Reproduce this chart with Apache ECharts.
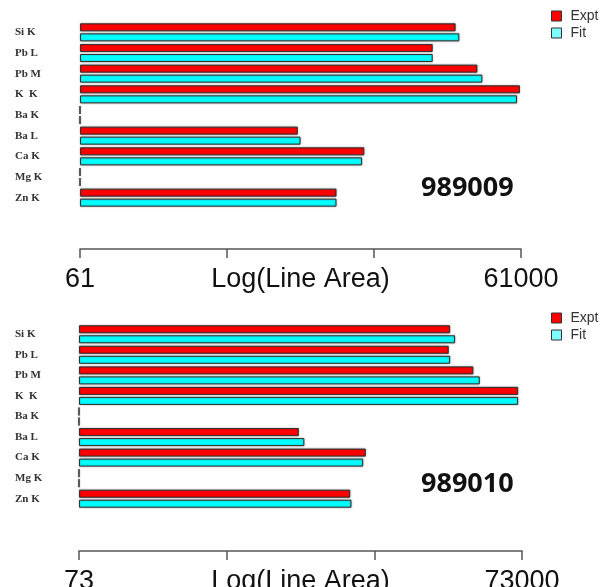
<!DOCTYPE html>
<html>
<head>
<meta charset="utf-8">
<title>Log(Line Area)</title>
<script src="https://cdn.jsdelivr.net/npm/echarts@6/dist/echarts.min.js"></script>
<style>
  html, body { margin: 0; padding: 0; background: #fff; }
  #chart { width: 600px; height: 587px; }
</style>
</head>
<body>
<div id="chart"></div>
<script>
// Emission lines, top to bottom
const categories = ['Si K', 'Pb L', 'Pb M', 'K  K', 'Ba K', 'Ba L', 'Ca K', 'Mg K', 'Zn K'];

// Sample 989009
const range989009 = [61, 61000];
const ticks989009 = ['61', '', '', '61000'];
const expt989009 = [21900, 15300, 30800, 60000, 61, 1850, 5240, 61, 3390];
const fit989009  = [23200, 15300, 33300, 57300, 61, 1930, 5060, 61, 3390];

// Sample 989010
const range989010 = [73, 73000];
const ticks989010 = ['73', '', '', '73000'];
const expt989010 = [23800, 23300, 34200, 68700, 73, 2250, 6390, 73, 5010];
const fit989010  = [25700, 23800, 37800, 68700, 73, 2450, 6130, 73, 5110];

const panels = [
  { id: '989009', range: range989009, ticks: ticks989009, expt: expt989009, fit: fit989009,
    grid: { left: 80, right: 79, top: 22, height: 186 }, axisOffset: 41,
    legendTop: 9, titleTop: 175 },
  { id: '989010', range: range989010, ticks: ticks989010, expt: expt989010, fit: fit989010,
    grid: { left: 79, right: 78, top: 324, height: 185 }, axisOffset: 42,
    legendTop: 311, titleTop: 471 }
];

const RED = '#ff0000';
const CYAN = '#00ffff';

const barStyle = color => ({
  color: color,
  borderColor: '#333333',
  borderWidth: 1,
  shadowColor: 'rgba(0,0,0,0.35)',
  shadowBlur: 2
});

const option = {
  animation: false,
  backgroundColor: '#ffffff',
  grid: [],
  xAxis: [],
  yAxis: [],
  series: [],
  legend: [],
  title: []
};

panels.forEach((p, i) => {
  option.grid.push(Object.assign({ containLabel: false, outerBoundsMode: 'none' }, p.grid));

  // log axis the bars are measured on
  option.xAxis.push({
    type: 'log',
    logBase: 10,
    gridIndex: i,
    position: 'top',
    min: p.range[0],
    max: p.range[1],
    startValue: p.range[0],
    show: false
  });

  // decade ruler under the bars (0..3 decades above the minimum)
  const decades = p.ticks.length - 1;
  option.xAxis.push({
    type: 'value',
    gridIndex: i,
    position: 'bottom',
    offset: p.axisOffset,
    min: 0,
    max: decades,
    interval: 1,
    name: 'Log(Line Area)',
    nameLocation: 'middle',
    nameGap: 16,
    nameMoveOverlap: false,
    nameTextStyle: {
      fontFamily: 'Liberation Sans', fontSize: 27, color: '#111',
      verticalAlign: 'top', lineHeight: 30
    },
    axisLine: { show: true, lineStyle: { color: '#555', width: 1.5 } },
    axisTick: { show: true, length: 9, lineStyle: { color: '#555', width: 1.5 } },
    splitLine: { show: false },
    axisLabel: {
      margin: 16,
      fontFamily: 'Liberation Sans',
      fontSize: 27,
      lineHeight: 30,
      color: '#111',
      formatter: v => p.ticks[Math.round(v)] || ''
    }
  });

  option.yAxis.push({
    type: 'category',
    gridIndex: i,
    data: categories,
    inverse: true,
    axisLine: { show: false },
    axisTick: { show: false },
    splitLine: { show: false },
    axisLabel: {
      align: 'left',
      margin: p.grid.left - 15,
      fontFamily: 'Liberation Serif',
      fontWeight: 'bold',
      fontSize: 11,
      color: '#333',
      padding: [0, 0, 4, 0]
    }
  });

  option.series.push({
    name: 'Expt',
    type: 'bar',
    xAxisIndex: i * 2,
    yAxisIndex: i,
    data: p.expt,
    barWidth: 8,
    barGap: '25%',
    clip: true,
    itemStyle: barStyle(RED)
  });
  option.series.push({
    name: 'Fit',
    type: 'bar',
    xAxisIndex: i * 2,
    yAxisIndex: i,
    data: p.fit,
    barWidth: 8,
    barGap: '25%',
    clip: true,
    itemStyle: barStyle(CYAN)
  });

  option.legend.push({
    data: [
      { name: 'Expt', itemStyle: { color: RED, borderColor: '#333', borderWidth: 1, shadowBlur: 0 } },
      { name: 'Fit', itemStyle: { color: '#80ffff', borderColor: '#333', borderWidth: 1, shadowBlur: 0 } }
    ],
    orient: 'vertical',
    left: 551,
    top: p.legendTop,
    itemWidth: 10,
    itemHeight: 10,
    itemGap: 3,
    padding: 0,
    icon: 'rect',
    selectedMode: false,
    textStyle: { fontFamily: 'Liberation Sans', fontSize: 14, color: '#333', padding: [0, 0, 0, 4] }
  });

  option.title.push({
    text: p.id,
    left: 421,
    top: p.titleTop,
    padding: 0,
    textStyle: { fontFamily: 'Open Sans', fontWeight: 'bold', fontSize: 27, color: '#111' }
  });
});

const chart = echarts.init(document.getElementById('chart'), null, { renderer: 'canvas' });
chart.setOption(option);
</script>
</body>
</html>
